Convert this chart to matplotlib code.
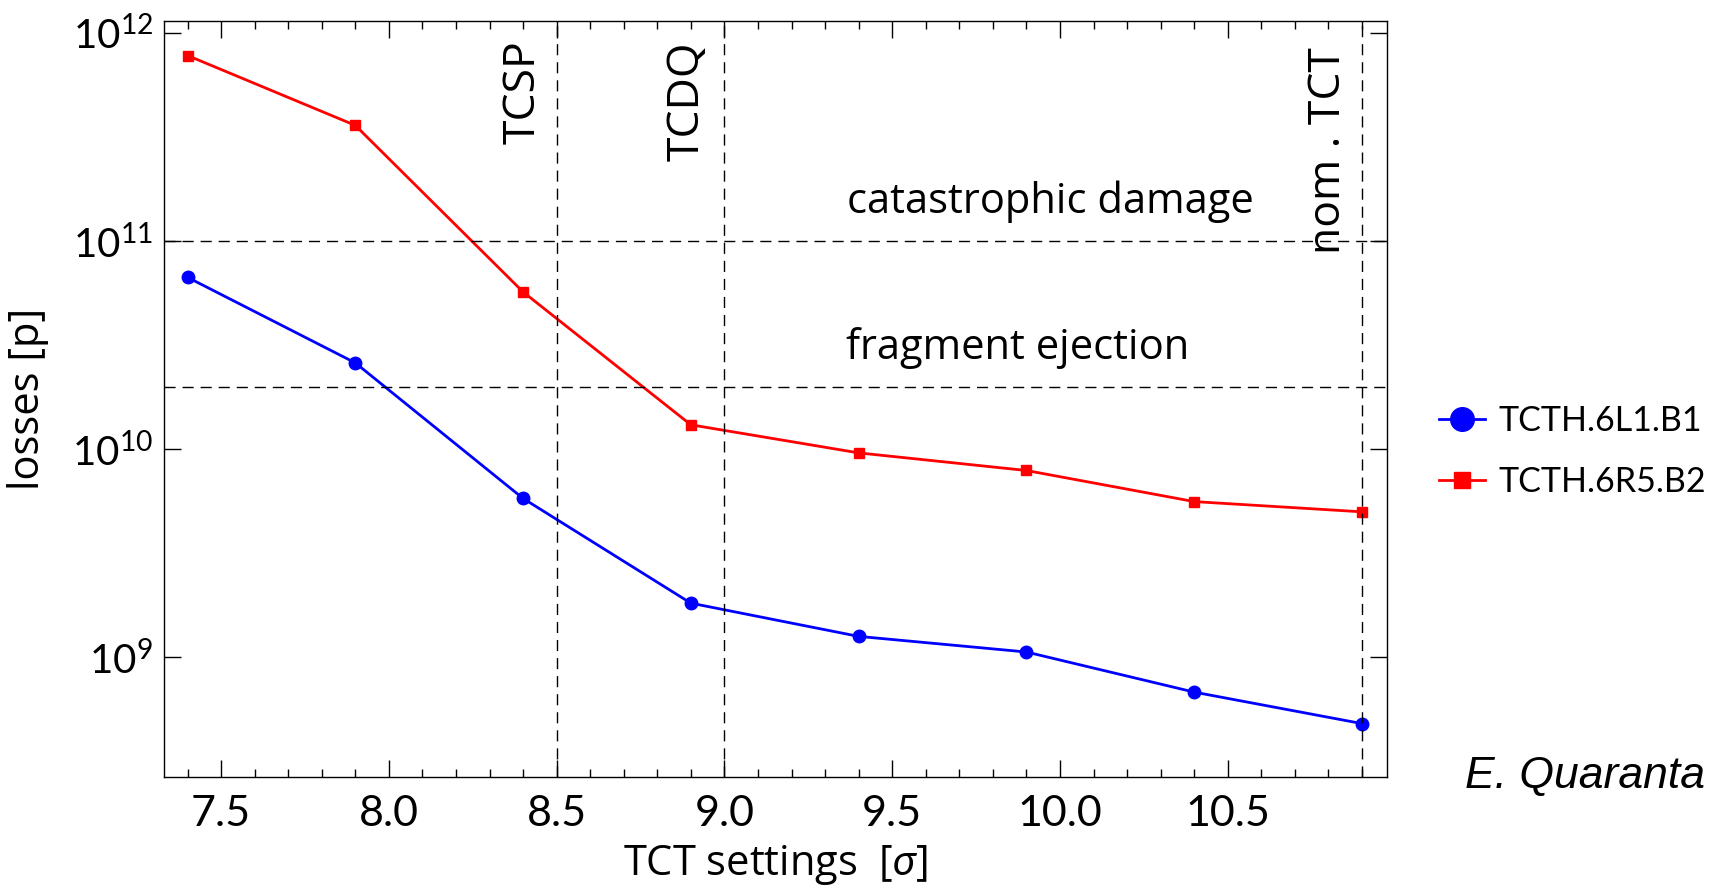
import numpy as np
import matplotlib.pyplot as plt
from matplotlib.lines import Line2D
from matplotlib.ticker import MultipleLocator, LogLocator, NullLocator

plt.rcParams['font.family'] = ['Lato', 'DejaVu Sans']
plt.rcParams['mathtext.fontset'] = 'custom'
plt.rcParams['mathtext.rm'] = 'Lato'
plt.rcParams['mathtext.it'] = 'Lato:italic'

#%% data
tct_sigma = [7.4, 7.9, 8.4, 8.9, 9.4, 9.9, 10.4, 10.9]
losses_b1 = [6.7e10, 2.6e10, 5.8e9, 1.82e9, 1.26e9, 1.06e9, 6.8e8, 4.8e8]
losses_b2 = [7.8e11, 3.6e11, 5.7e10, 1.31e10, 9.6e9, 7.9e9, 5.6e9, 5.0e9]
label_b1 = 'TCTH.6L1.B1'
label_b2 = 'TCTH.6R5.B2'

limit_levels = [1e11, 2e10]
limit_names = ['catastrophic damage', 'fragment ejection']
setting_marks = [8.5, 9.0, 10.9]
setting_names = ['TCSP', 'TCDQ', 'nom . TCT']

wide = ['Open Sans', 'DejaVu Sans']

#%% figure
fig = plt.figure(figsize=(17.21, 8.93), dpi=100)
ax = fig.add_axes([0.0953, 0.130, 0.7107, 0.8465])

ax.plot(tct_sigma, losses_b1, color='blue', lw=2, marker='o', ms=9)
ax.plot(tct_sigma, losses_b2, color='red', lw=2, marker='s', ms=6.5)

for lvl in limit_levels:
    ax.axhline(lvl, color='black', lw=1, ls=(0, (8, 5)))
for xs in setting_marks:
    ax.axvline(xs, color='black', lw=1, ls=(0, (8, 5)))

# limit labels
ax.text(9.97, 1.54e11, limit_names[0], fontsize=30, ha='center', va='center', family=wide)
ax.text(9.875, 3.05e10, limit_names[1], fontsize=30, ha='center', va='center', family=wide)

# setting labels (rotated)
ax.text(8.40, 5.2e11, setting_names[0], fontsize=32, rotation=90, ha='center', va='center', family=wide)
ax.text(8.89, 4.7e11, setting_names[1], fontsize=32, rotation=90, ha='center', va='center', family=wide)
ax.text(10.80, 2.72e11, setting_names[2], fontsize=32, rotation=90, ha='center', va='center', family=wide)

ax.set_yscale('log')
ax.set_xlim(7.33, 10.975)
ax.set_ylim(10**8.425, 10**12.058)

ax.xaxis.set_major_locator(MultipleLocator(0.5))
ax.xaxis.set_minor_locator(MultipleLocator(0.1))
ax.yaxis.set_major_locator(LogLocator(base=10, numticks=10))
ax.yaxis.set_minor_locator(NullLocator())
ax.tick_params(which='both', direction='in', top=True, right=True)
ax.tick_params(axis='x', labelsize=31, pad=13)
ax.tick_params(axis='y', labelsize=29, pad=8)
ax.tick_params(which='major', length=12, width=1)
ax.tick_params(which='minor', length=6, width=1)
for s in ax.spines.values():
    s.set_linewidth(1)

ax.set_xlabel(r'TCT settings  [$\it{\sigma}$]', fontsize=30, labelpad=7, family=wide)
ax.set_ylabel('losses [p]', fontsize=30, family=wide)
ax.yaxis.set_label_coords(-0.094, 0.5)

handles = [Line2D([], [], color='blue', lw=2, marker='o', ms=17),
           Line2D([], [], color='red', lw=2, marker='s', ms=12)]
fig.legend(handles, [label_b1, label_b2], loc='center left',
           bbox_to_anchor=(0.836, 0.494), fontsize=24.5, frameon=False,
           borderaxespad=0, borderpad=0,
           handlelength=1.35, handletextpad=0.4, labelspacing=0.85)

fig.text(0.851, 0.131, 'E. Quaranta', fontsize=32, style='italic',
         family=['Liberation Sans', 'DejaVu Sans'], ha='left', va='center')

fig.savefig('out.png', dpi=100)
